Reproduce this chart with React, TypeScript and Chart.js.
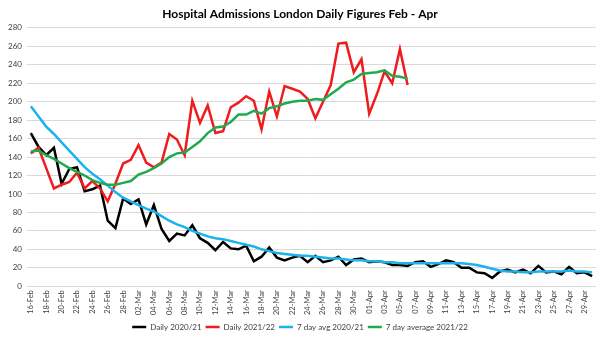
import React, { useEffect, useRef } from "react";
import { Chart, registerables } from "chart.js";

Chart.register(...registerables);

const dateLabels: string[] = [
  "16-Feb", "17-Feb", "18-Feb", "19-Feb", "20-Feb", "21-Feb", "22-Feb", "23-Feb", "24-Feb", "25-Feb", "26-Feb", "27-Feb", "28-Feb",
  "01-Mar", "02-Mar", "03-Mar", "04-Mar", "05-Mar", "06-Mar", "07-Mar", "08-Mar", "09-Mar", "10-Mar", "11-Mar", "12-Mar", "13-Mar",
  "14-Mar", "15-Mar", "16-Mar", "17-Mar", "18-Mar", "19-Mar", "20-Mar", "21-Mar", "22-Mar", "23-Mar", "24-Mar", "25-Mar", "26-Mar",
  "27-Mar", "28-Mar", "29-Mar", "30-Mar", "31-Mar",
  "01-Apr", "02-Apr", "03-Apr", "04-Apr", "05-Apr", "06-Apr", "07-Apr", "08-Apr", "09-Apr", "10-Apr", "11-Apr", "12-Apr", "13-Apr",
  "14-Apr", "15-Apr", "16-Apr", "17-Apr", "18-Apr", "19-Apr", "20-Apr", "21-Apr", "22-Apr", "23-Apr", "24-Apr", "25-Apr", "26-Apr",
  "27-Apr", "28-Apr", "29-Apr", "30-Apr",
];

const daily2021: number[] = [
  166, 151, 142, 150, 111, 127, 129, 103, 105, 109, 71, 63, 95, 89, 94, 67, 88, 62, 49, 57,
  55, 66, 52, 47, 39, 48, 41, 40, 44, 27, 32, 42, 31, 28, 31, 33, 26, 33, 26, 28,
  32, 23, 29, 30, 26, 27, 26, 23, 23, 22, 26, 27, 21, 24, 28, 26, 20, 20, 15, 14,
  9, 16, 18, 15, 18, 14, 22, 15, 16, 13, 21, 14, 15, 11,
];

const daily2122: number[] = [
  144, 150, 128, 106, 110, 113, 123, 106, 114, 106, 92, 111, 133, 137, 153, 134, 129, 134, 165, 159,
  142, 201, 177, 196, 166, 168, 194, 199, 206, 201, 170, 211, 184, 217, 214, 211, 203, 182, 200, 218,
  263, 264, 232, 246, 187, 208, 233, 220, 257, 218,
];

const avg2021: number[] = [
  195, 184, 173, 165, 156, 147, 138, 129, 122, 116, 109, 102, 96, 92, 88, 84, 81, 76, 71, 67,
  64, 60, 57, 54, 52, 51, 49, 47, 45, 43, 40, 38, 36, 35, 34, 33, 33, 32, 31, 30,
  30, 29, 28, 28, 27, 27, 26, 26, 25, 25, 25, 25, 25, 25, 25, 25, 25, 24, 23, 21,
  19, 17, 16, 16, 15, 15, 16, 16, 16, 16, 17, 16, 16, 15,
];

const avg2122: number[] = [
  146, 147, 142, 138, 133, 128, 124, 120, 115, 112, 110, 110, 112, 114, 121, 124, 128, 133, 140, 144,
  145, 151, 157, 166, 172, 173, 178, 186, 186, 190, 187, 193, 195, 198, 200, 201, 201, 203, 202, 208,
  214, 221, 224, 230, 231, 232, 234, 228, 227, 225,
];

const seriesNames: string[] = ["Daily 2020/21", "Daily 2021/22", "7 day avg 2020/21", "7 day average 2021/22"];
const seriesColors: string[] = ["#000000", "#ee1c1c", "#1cb2ec", "#1faa4f"];
const titleText = "Hospital Admissions London Daily Figures Feb - Apr";

const FONT = "Lato, 'Open Sans', sans-serif";

export default function App() {
  const ref = useRef<HTMLCanvasElement | null>(null);

  useEffect(() => {
    if (!ref.current) return;
    const seriesData = [daily2021, daily2122, avg2021, avg2122];
    const chart = new Chart(ref.current, {
      type: "line",
      data: {
        labels: dateLabels,
        datasets: seriesData.map((d, i) => ({
          label: seriesNames[i],
          data: d,
          borderColor: seriesColors[i],
          backgroundColor: seriesColors[i],
          borderWidth: 2.5,
          pointRadius: 0,
          tension: 0,
          fill: false,
          order: 4 - i,
        })),
      },
      options: {
        responsive: false,
        animation: false,
        layout: { padding: { left: 4, right: 4, top: 0, bottom: -3 } },
        plugins: {
          title: {
            display: true,
            text: titleText,
            color: "#000000",
            font: { family: FONT, size: 12, weight: "bold" },
            padding: { top: 7, bottom: 6.5 },
          },
          legend: {
            position: "bottom",
            labels: {
              sort: (a: any, b: any) => a.datasetIndex - b.datasetIndex,
              usePointStyle: true,
              pointStyle: "line",
              pointStyleWidth: 14,
              color: "#404040",
              font: { family: FONT, size: 8 },
              padding: 4,
            },
          },
          tooltip: { enabled: false },
        },
        scales: {
          x: {
            type: "category",
            offset: true,
            grid: { display: false, drawTicks: false },
            border: { display: false },
            ticks: {
              autoSkip: false,
              maxRotation: 90,
              minRotation: 90,
              color: "#404040",
              font: { family: FONT, size: 7.5 },
              padding: 4,
              callback: (_v: any, i: number) => (i % 2 === 0 ? dateLabels[i] : ""),
            },
            afterFit: (scale: any) => {
              scale.paddingLeft = 0;
              scale.paddingRight = 0;
            },
          },
          y: {
            min: 0,
            max: 280,
            ticks: {
              stepSize: 20,
              color: "#404040",
              font: { family: FONT, size: 8 },
              padding: 5,
            },
            grid: { color: "#d9d9d9", drawTicks: false },
            border: { display: false },
            afterFit: (scale: any) => {
              scale.width = 23;
              scale.paddingTop = 0;
              scale.paddingBottom = 0;
            },
          },
        },
      },
    });
    return () => chart.destroy();
  }, []);

  return (
    <div style={{ position: "fixed", left: 0, top: 0, width: 600, height: 338, background: "#ffffff" }}>
      <canvas ref={ref} width={600} height={338} style={{ display: "block" }} />
    </div>
  );
}
